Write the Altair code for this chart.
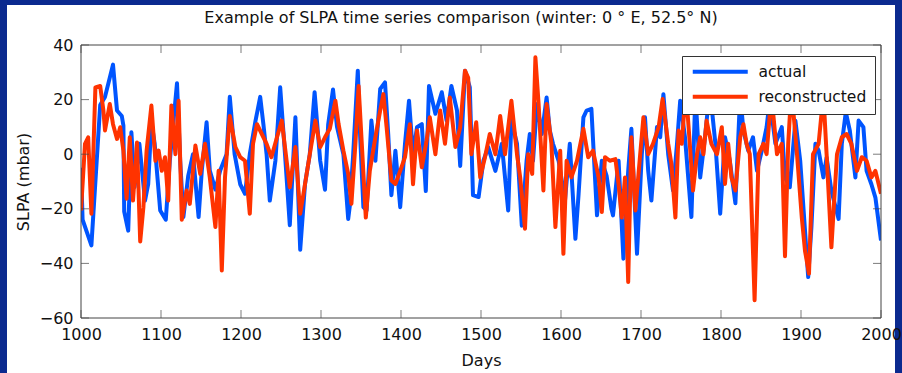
import altair as alt
import pandas as pd

# ---- data ----
actual_days = [1000, 1002, 1013, 1024, 1030, 1040, 1045, 1051, 1053, 1054, 1059, 1063, 1067, 1073, 1080, 1084, 1088, 1092,
               1099, 1106, 1111, 1120, 1124, 1128, 1134, 1140, 1147, 1151, 1157, 1161, 1168, 1174, 1182, 1186, 1192, 1199,
               1205, 1211, 1218, 1224, 1228, 1232, 1236, 1243, 1249, 1255, 1261, 1268, 1274, 1280, 1286, 1292, 1299, 1305,
               1309, 1315, 1320, 1328, 1334, 1336, 1340, 1346, 1349, 1353, 1357, 1363, 1368, 1374, 1380, 1384, 1388, 1393,
               1399, 1405, 1410, 1415, 1420, 1426, 1431, 1435, 1443, 1451, 1457, 1463, 1470, 1474, 1480, 1486, 1490, 1497,
               1503, 1509, 1518, 1526, 1534, 1538, 1545, 1551, 1557, 1561, 1565, 1570, 1576, 1582, 1586, 1590, 1597, 1605,
               1611, 1618, 1622, 1628, 1632, 1638, 1645, 1651, 1657, 1663, 1665, 1672, 1678, 1684, 1688, 1695, 1701, 1705,
               1709, 1713, 1720, 1724, 1728, 1734, 1740, 1745, 1749, 1755, 1763, 1768, 1774, 1780, 1786, 1793, 1799, 1805,
               1811, 1818, 1824, 1828, 1834, 1840, 1845, 1851, 1857, 1861, 1868, 1876, 1880, 1886, 1893, 1899, 1905, 1909,
               1913, 1918, 1922, 1928, 1932, 1938, 1947, 1951, 1956, 1961, 1968, 1972, 1978, 1982, 1988, 1993, 2000]
actual_vals = [-5, -24, -33.4, 18, 21, 32.8, 16, 14, 10.5, -21, -28, 8, -12, 3.8, -17, -11, 12, 4,
               -20.6, -24, -2.4, 26, -2.4, -23, -8, 0, -23, -6, 11.7, -6, -13, -6, 0, 21, 0, -11,
               -14.5, 0, 12, 21, 11, 0, -17, -2.4, 24.5, 0, -26, 13.5, -35, -11, 0, 22.7, -2.4, -13,
               11, 23.7, 10, 0, -23.7, -19, -1.2, 30.6, 6.2, -19.4, -20.6, 12.3, -2.4, 23.9, 26.3, 7.4, -15, 1.3,
               -19.4, 3.8, 19.6, 0, 9.9, 11, -13.5, 25, 14.8, 22.7, 12.3, 25, 16, -4.3, 30.6, 24.5, -15, -15.7,
               -2.4, 2.6, -6.1, 3.8, -20.6, 12.3, 3.8, -26.2, -2.4, 7.4, -2.4, 18.4, 7.4, 20.8, 8.7, 3.8, -2.4, -16.9,
               3.8, -31, -14.5, 13.5, 16, 16.6, -22.4, -2.4, -7.9, -20, -22.4, -2.4, -38.3, -6.1, 9.3, -36.5, 0, 13.5,
               -6.1, -17, 10, 6.2, 22, 0, -13.3, 3.8, 19.6, 6.2, -23, 22, -8.5, 6.2, 24, 3.8, -21.8, 6.2,
               -2.4, -18, 22, 8.7, 1.3, 6.2, -6.1, 1.3, 9.9, 20, 3.8, 9.9, -8.5, -12.1, 12.3, -2.4, -28, -45,
               -26.8, 3.8, 1.3, -8.5, -1.2, -13.4, -23.7, 3.8, 15.4, 8.7, -8.5, 12.3, 9.9, -6.1, -11, -15.9, -31.6]

recon_days = [1000, 1005, 1009, 1013, 1018, 1024, 1028, 1030, 1036, 1040, 1045, 1049, 1053, 1057, 1061, 1065, 1070, 1074,
              1078, 1082, 1088, 1093, 1097, 1101, 1105, 1109, 1113, 1118, 1122, 1126, 1132, 1136, 1143, 1149, 1155, 1161,
              1168, 1172, 1176, 1180, 1186, 1193, 1199, 1205, 1211, 1215, 1220, 1226, 1232, 1238, 1245, 1251, 1257, 1261,
              1268, 1274, 1280, 1286, 1293, 1299, 1305, 1311, 1318, 1322, 1328, 1334, 1338, 1343, 1347, 1351, 1356, 1361,
              1368, 1374, 1378, 1382, 1388, 1393, 1399, 1405, 1411, 1415, 1420, 1426, 1432, 1436, 1443, 1449, 1455, 1461,
              1468, 1474, 1480, 1484, 1488, 1494, 1499, 1505, 1511, 1518, 1524, 1530, 1538, 1545, 1549, 1555, 1559, 1564,
              1568, 1572, 1578, 1582, 1588, 1593, 1599, 1603, 1607, 1613, 1620, 1628, 1634, 1640, 1647, 1651, 1655, 1661,
              1668, 1672, 1676, 1680, 1684, 1688, 1693, 1699, 1703, 1709, 1715, 1722, 1727, 1734, 1738, 1743, 1747, 1751,
              1756, 1761, 1765, 1770, 1774, 1778, 1782, 1788, 1795, 1801, 1805, 1809, 1813, 1818, 1824, 1828, 1832, 1836,
              1842, 1847, 1853, 1857, 1863, 1870, 1876, 1880, 1884, 1888, 1895, 1901, 1905, 1910, 1915, 1922, 1928, 1932,
              1938, 1945, 1951, 1957, 1963, 1970, 1976, 1982, 1988, 1993, 2000]
recon_vals = [-20.6, 3.8, 6.2, -21.8, 24.5, 25, 16, 8.7, 18.4, 11, 5.6, 9.9, 1.3, -16.3, 6.2, -17, 4.3, -32,
              -19.4, 1.3, 17.8, -2.4, 1.3, -6.1, -1.1, -17, 17.8, 0, 19.6, -24, -13.3, -18.2, 3.2, -7.2, 3.8, -8.5,
              -26.7, -6.1, -42.6, -8.5, 14, 2.6, -1.1, -2.4, -21.8, 3.8, 11, 7.4, 3.8, -1.1, 6.2, 12.3, -2.4, -12.1,
              2.6, -21.8, -11, 0, 12.3, 2.6, 6.2, 9.3, 19.6, 11, 1.3, -7.2, -18.2, 3.8, 25, 3.8, -23.2, -6.1,
              6.2, 16, 22, 9.9, -9.6, -10.9, -6.1, -1.1, 11, -11, 8.7, -4.8, 5, 13.5, 0, 16, 3.8, 20.8,
              2.6, 9.9, 30.6, 28, 0, 11.7, -8.5, -1.1, 7.4, 0, 14, 0, 19.6, 0, -8.5, -27.3, 0, -7.2,
              35.5, 18.4, -13.3, 18.4, 3.8, -26.7, 1.3, -36.5, -2.4, -8.5, -2.4, 9.3, -1.1, 1.3, -8.5, -21.2, -1.1, -2.4,
              -1.8, -11, -23.2, -8.5, -46.8, 6.2, -20.6, 0, 13.5, 0, 3.8, 9.9, 20.2, 3.8, -3.5, -23.2, 8.7, 3.8,
              24, 3.8, -13.3, 0, 6.2, 0, 12.3, 3.8, 0, 9.9, -10.9, 3.8, -8.5, -13.3, 6.2, 11, 3.8, 0,
              -53.5, 0, 3.8, 0, 22, 0, 3.8, -37.4, 3.8, 24, 0, -23.2, -35.4, -43.8, 0, 3.8, 22, 0,
              -34.1, 0, 6.2, 7.4, 3.8, -6.1, -1.1, -2.4, -8.5, -6.1, -14.5]

series_names = ["actual", "reconstructed"]
series_colors = ["#0055ff", "#ff3300"]
x_ticks = [1000, 1100, 1200, 1300, 1400, 1500, 1600, 1700, 1800, 1900, 2000]
y_ticks = [-60, -40, -20, 0, 20, 40]

FONT = "DejaVu Sans"
TXT = "#111111"
FRAME = "#444444"

df_a = pd.DataFrame({"day": actual_days, "slpa": actual_vals, "series": series_names[0]})
df_r = pd.DataFrame({"day": recon_days, "slpa": recon_vals, "series": series_names[1]})
df_xt = pd.DataFrame({"t": x_ticks})
df_yt = pd.DataFrame({"t": y_ticks})

x_enc = alt.X("day:Q", scale=alt.Scale(domain=[1000, 2000], nice=False, zero=False),
              axis=alt.Axis(values=x_ticks, title="Days", grid=False, ticks=False, domain=False, zindex=2,
                            labelFontSize=16, titleFontSize=16, labelFont=FONT, titleFont=FONT,
                            labelColor=TXT, titleColor=TXT, titleFontWeight="normal",
                            labelPadding=8, titlePadding=10, format="d", labelFlush=False))
y_enc = alt.Y("slpa:Q", scale=alt.Scale(domain=[-60, 40], nice=False, zero=False),
              axis=alt.Axis(values=y_ticks, title="SLPA (mbar)", grid=False, ticks=False, domain=False, zindex=2,
                            labelFontSize=16, titleFontSize=16, labelFont=FONT, titleFont=FONT,
                            labelColor=TXT, titleColor=TXT, titleFontWeight="normal",
                            labelPadding=8, titlePadding=8, labelFlush=False))
color_enc = alt.Color("series:N", scale=alt.Scale(domain=series_names, range=series_colors),
                      legend=alt.Legend(title=None, orient="none", legendX=601, legendY=11,
                                        fillColor="white", strokeColor="#333333", padding=8,
                                        symbolType="M-1,0H10", symbolStrokeWidth=4, symbolSize=100,
                                        labelFontSize=15.5, labelFont=FONT, labelColor=TXT,
                                        labelLimit=300, rowPadding=7, labelOffset=53))

bg = alt.Chart(pd.DataFrame({"a": [0]})).mark_rect(color="white").encode(
    x=alt.value(-74), x2=alt.value(814), y=alt.value(-40), y2=alt.value(330))

line_style = dict(strokeWidth=4, clip=True, strokeJoin="round")
line_a = alt.Chart(df_a).mark_line(**line_style).encode(x=x_enc, y=y_enc, color=color_enc)
line_r = alt.Chart(df_r).mark_line(**line_style).encode(x="day:Q", y="slpa:Q", color=color_enc)

frame = alt.Chart(pd.DataFrame({"a": [0]})).mark_rect(fill=None, stroke=FRAME, strokeWidth=1).encode(
    x=alt.value(0), x2=alt.value(800), y=alt.value(0), y2=alt.value(273))

tick_style = dict(color=FRAME, thickness=1, size=8)
xt_bot = alt.Chart(df_xt).mark_tick(orient="vertical", **tick_style).encode(x="t:Q", y=alt.value(269))
xt_top = alt.Chart(df_xt).mark_tick(orient="vertical", **tick_style).encode(x="t:Q", y=alt.value(4))
yt_left = alt.Chart(df_yt).mark_tick(orient="horizontal", **tick_style).encode(y="t:Q", x=alt.value(4))
yt_right = alt.Chart(df_yt).mark_tick(orient="horizontal", **tick_style).encode(y="t:Q", x=alt.value(796))

chart = alt.layer(bg, line_a, line_r, xt_bot, xt_top, yt_left, yt_right, frame).properties(
    width=800, height=273,
    autosize=alt.AutoSizeParams(type="none"),
    padding={"left": 81, "top": 45, "right": 21, "bottom": 55},
    title=alt.TitleParams("Example of SLPA time series comparison (winter: 0 \u00b0 E, 52.5\u00b0 N)",
                          fontSize=16, font=FONT, fontWeight="normal", color=TXT,
                          anchor="middle", frame="group", offset=-21, dx=-20),
).configure(background="#0b2a8f").configure_view(strokeWidth=0)

chart.save("out.html", embed_options={"renderer": "svg", "actions": False})
